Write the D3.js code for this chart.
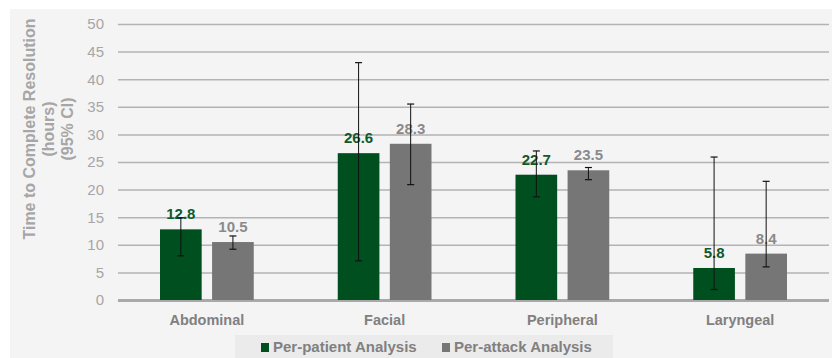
<!DOCTYPE html>
<html>
<head>
<meta charset="utf-8">
<script src="https://cdn.jsdelivr.net/npm/d3@7"></script>
<style>
  body { margin: 0; background: #fff; font-family: "Liberation Sans", Arial, sans-serif; }
</style>
</head>
<body>
<svg id="chart" width="832" height="358"></svg>
<script>
const categories = ["Abdominal", "Facial", "Peripheral", "Laryngeal"];
const seriesNames = ["Per-patient Analysis", "Per-attack Analysis"];
const patientValues = [12.8, 26.6, 22.7, 5.8];
const attackValues = [10.5, 28.3, 23.5, 8.4];
const patientLow = [8.0, 7.1, 18.7, 1.9];
const patientHigh = [14.9, 43.0, 27.0, 25.9];
const attackLow = [9.2, 20.9, 21.8, 6.0];
const attackHigh = [11.6, 35.5, 24.0, 21.5];
const yTicks = [0, 5, 10, 15, 20, 25, 30, 35, 40, 45, 50];

const colors = ["#00501f", "#767676"];
const labelColors = ["#0e5a2c", "#8a8a8a"];

const svg = d3.select("#chart");
const width = 832, height = 358;

svg.append("rect")
  .attr("x", 10).attr("y", 9)
  .attr("width", width - 10).attr("height", height - 9)
  .attr("fill", "#f5f4f5");

const margin = { top: 24, right: 3, bottom: 58, left: 118 };
const innerWidth = width - margin.left - margin.right;
const innerHeight = height - margin.top - margin.bottom;

const g = svg.append("g")
  .attr("transform", `translate(${margin.left},${margin.top})`);

const x = d3.scaleBand()
  .domain(categories)
  .range([0, innerWidth]);

const x1 = d3.scaleBand()
  .domain(seriesNames)
  .range([42, x.bandwidth() - 42])
  .paddingInner(0.2);

const y = d3.scaleLinear()
  .domain([0, 50])
  .range([innerHeight, 0]);

// gridlines + tick labels
g.append("g")
  .call(d3.axisLeft(y).tickValues(yTicks).tickSize(-innerWidth).tickPadding(14))
  .call(a => a.select(".domain").remove())
  .call(a => a.selectAll("line")
    .attr("stroke", d => d === 0 ? "#a9a9a9" : "#b3b3b3")
    .attr("stroke-width", d => d === 0 ? 3 : 1.5))
  .call(a => a.selectAll("text")
    .attr("fill", "#a6a6a6")
    .attr("font-size", "15px")
    .attr("font-family", "Liberation Sans, Arial, sans-serif"));

const rows = categories.map((c, i) => ({
  cat: c,
  items: [
    { s: 0, v: patientValues[i], lo: patientLow[i], hi: patientHigh[i] },
    { s: 1, v: attackValues[i], lo: attackLow[i], hi: attackHigh[i] }
  ]
}));

const groups = g.selectAll(".grp")
  .data(rows)
  .enter()
  .append("g")
  .attr("transform", d => `translate(${x(d.cat)},0)`);

groups.selectAll("rect")
  .data(d => d.items)
  .enter()
  .append("rect")
  .attr("x", d => x1(seriesNames[d.s]))
  .attr("y", d => y(d.v))
  .attr("width", x1.bandwidth())
  .attr("height", d => y(0) - y(d.v))
  .attr("fill", d => colors[d.s]);

groups.selectAll(".val")
  .data(d => d.items)
  .enter()
  .append("text")
  .attr("x", d => x1(seriesNames[d.s]) + x1.bandwidth() / 2)
  .attr("y", d => y(d.v) - 10)
  .attr("text-anchor", "middle")
  .attr("font-size", "15px")
  .attr("font-weight", "bold")
  .attr("fill", d => labelColors[d.s])
  .text(d => d.v.toFixed(1));

const err = groups.selectAll(".err")
  .data(d => d.items)
  .enter()
  .append("g")
  .attr("transform", d => `translate(${x1(seriesNames[d.s]) + x1.bandwidth() / 2},0)`);

err.append("line")
  .attr("y1", d => y(d.lo)).attr("y2", d => y(d.hi))
  .attr("stroke", "#111").attr("stroke-width", 1);
err.append("line")
  .attr("x1", -3.5).attr("x2", 3.5)
  .attr("y1", d => y(d.hi)).attr("y2", d => y(d.hi))
  .attr("stroke", "#111").attr("stroke-width", 1.2);
err.append("line")
  .attr("x1", -3.5).attr("x2", 3.5)
  .attr("y1", d => y(d.lo)).attr("y2", d => y(d.lo))
  .attr("stroke", "#111").attr("stroke-width", 1.2);

// category labels
g.selectAll(".cat")
  .data(categories)
  .enter()
  .append("text")
  .attr("x", d => x(d) + x.bandwidth() / 2)
  .attr("y", innerHeight + 25)
  .attr("text-anchor", "middle")
  .attr("font-size", "14.5px")
  .attr("font-weight", "bold")
  .attr("fill", "#808080")
  .text(d => d);

// y title
const title = svg.append("text")
  .attr("transform", "translate(35,129) rotate(-90)")
  .attr("text-anchor", "middle")
  .attr("font-size", "16px")
  .attr("font-weight", "bold")
  .attr("fill", "#a6a6a6");
["Time to Complete Resolution", "(hours)", "(95% CI)"].forEach((t, i) => {
  title.append("tspan").attr("x", 0).attr("dy", i === 0 ? 0 : 19).text(t);
});

// legend
const legend = svg.append("g");
legend.append("rect")
  .attr("x", 235).attr("y", 335)
  .attr("width", 378).attr("height", 23)
  .attr("fill", "#ecebeb");
const legendX = [261, 442];
seriesNames.forEach((s, i) => {
  legend.append("rect")
    .attr("x", legendX[i]).attr("y", 343)
    .attr("width", 8).attr("height", 9)
    .attr("fill", colors[i]);
  legend.append("text")
    .attr("x", legendX[i] + 12).attr("y", 352)
    .attr("font-size", "15px")
    .attr("font-weight", "bold")
    .attr("fill", "#808080")
    .text(s);
});
</script>
</body>
</html>
